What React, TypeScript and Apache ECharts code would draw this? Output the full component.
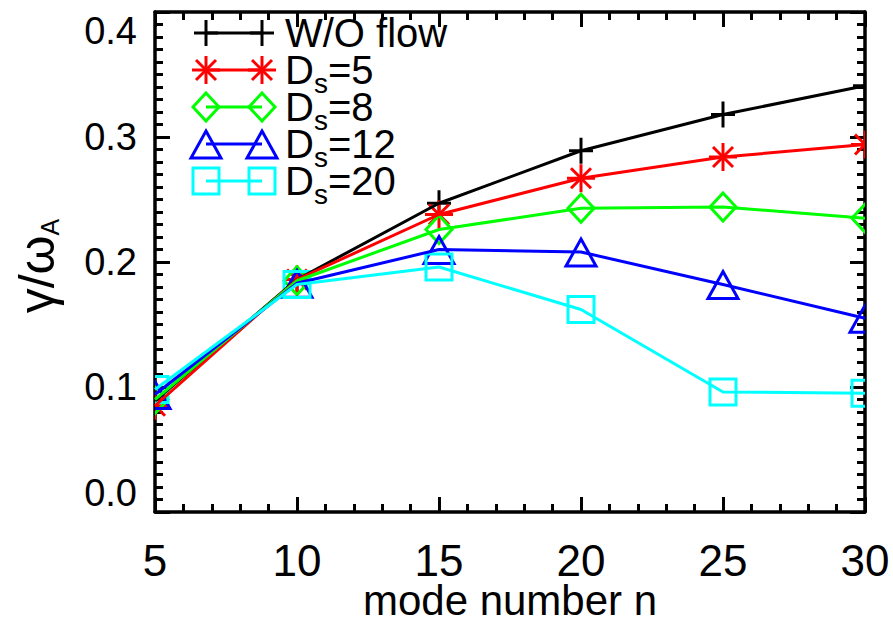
import React, { useEffect, useRef } from "react";
import * as echarts from "echarts";

const modeNumbers = [5, 10, 15, 20, 25, 30];
const woFlow = [0.089, 0.186, 0.247, 0.289, 0.318, 0.341];
const ds5 = [0.085, 0.186, 0.238, 0.267, 0.284, 0.294];
const ds8 = [0.09, 0.185, 0.226, 0.243, 0.244, 0.235];
const ds12 = [0.094, 0.183, 0.21, 0.208, 0.182, 0.155];
const ds20 = [0.098, 0.182, 0.196, 0.162, 0.096, 0.095];

const seriesNames = ["W/O flow", "Ds=5", "Ds=8", "Ds=12", "Ds=20"];
const legendLabels = ["{a|W/O flow}", "{a|D}{s|s}{a|=5}", "{a|D}{s|s}{a|=8}", "{a|D}{s|s}{a|=12}", "{a|D}{s|s}{a|=20}"];
const seriesValues = [woFlow, ds5, ds8, ds12, ds20];
const seriesColors = ["#000000", "#ff0000", "#00ff00", "#0000ff", "#00ffff"];
const seriesMarkers = ["plus", "asterisk", "diamond", "triangle", "square"];

const FONT = "Liberation Sans";
const LW = 3;

function markerShapes(kind: string, cx: number, cy: number, color: string): any[] {
  const st = { stroke: color, lineWidth: LW, fill: "none" };
  const ln = (x1: number, y1: number, x2: number, y2: number) => ({
    type: "line",
    shape: { x1, y1, x2, y2 },
    style: { stroke: color, lineWidth: LW },
  });
  switch (kind) {
    case "plus":
      return [ln(cx - 12, cy, cx + 12, cy), ln(cx, cy - 13, cx, cy + 13)];
    case "asterisk":
      return [
        ln(cx - 14, cy, cx + 14, cy),
        ln(cx, cy - 14, cx, cy + 14),
        ln(cx - 10, cy - 10, cx + 10, cy + 10),
        ln(cx - 10, cy + 10, cx + 10, cy - 10),
      ];
    case "diamond":
      return [
        {
          type: "polygon",
          shape: { points: [[cx, cy - 14], [cx + 13, cy], [cx, cy + 14], [cx - 13, cy]] },
          style: st,
        },
      ];
    case "triangle":
      return [
        {
          type: "polygon",
          shape: { points: [[cx, cy - 13], [cx + 15, cy + 14], [cx - 15, cy + 14]] },
          style: st,
        },
      ];
    default:
      return [
        {
          type: "rect",
          shape: { x: cx - 13, y: cy - 13, width: 26, height: 26 },
          style: st,
        },
      ];
  }
}

export default function App() {
  const ref = useRef<HTMLDivElement>(null);
  useEffect(() => {
    document.body.style.margin = "0";
    if (!ref.current) return;
    const chart = echarts.init(ref.current, null, { renderer: "svg" });

    const axisCommon = {
      type: "value",
      axisLine: { show: true, onZero: false, lineStyle: { color: "#000", width: 3.5 } },
      axisTick: { show: true, inside: true, length: 15, lineStyle: { color: "#000", width: 3 } },
      minorTick: { show: true, length: 8, lineStyle: { color: "#000", width: 3 } },
      splitLine: { show: false },
      minorSplitLine: { show: false },
    };

    const series: any[] = [];
    seriesValues.forEach((vals, i) => {
      const data = modeNumbers.map((n, j) => [n, vals[j]]);
      series.push({
        name: seriesNames[i],
        type: "line",
        data,
        symbol: "none",
        clip: true,
        lineStyle: { color: seriesColors[i], width: LW },
        itemStyle: { color: seriesColors[i] },
        z: 2,
      });
      series.push({
        name: seriesNames[i],
        type: "custom",
        data,
        clip: true,
        z: 2,
        renderItem: (params: any, api: any) => {
          const p = api.coord([api.value(0), api.value(1)]);
          return {
            type: "group",
            children: markerShapes(seriesMarkers[i], p[0], p[1], seriesColors[i]),
          };
        },
      });
    });

    const legendElements: any[] = [];
    seriesNames.forEach((_, i) => {
      const y = 33 + 37 * i;
      const c = seriesColors[i];
      legendElements.push({
        type: "line",
        shape: { x1: 206, y1: y, x2: 262, y2: y },
        style: { stroke: c, lineWidth: LW },
      });
      legendElements.push(...markerShapes(seriesMarkers[i], 206, y, c));
      legendElements.push(...markerShapes(seriesMarkers[i], 262, y, c));
      legendElements.push({
        type: "text",
        x: 285,
        y,
        style: {
          text: legendLabels[i],
          fontSize: 40,
          lineHeight: 34,
          fontFamily: FONT,
          fill: "#000",
          verticalAlign: "middle",
          align: "left",
          rich: {
            a: { fontSize: 40, lineHeight: 34, fontFamily: FONT, fill: "#000" },
            s: {
              fontSize: 28,
              fontFamily: FONT,
              fill: "#000",
              verticalAlign: "top",
              lineHeight: 4,
              padding: [16, 0, 0, 0],
            },
          },
        },
      });
    });

    chart.setOption({
      animation: false,
      backgroundColor: "#ffffff",
      grid: { left: 155, right: 28, top: 12, bottom: 111, containLabel: false, outerBoundsMode: "none" },
      xAxis: [
        {
          ...axisCommon,
          min: 5,
          max: 30,
          interval: 5,
          position: "bottom",
          minorTick: { ...axisCommon.minorTick, splitNumber: 5 },
          axisLabel: { show: true, fontSize: 44, lineHeight: 40, fontFamily: FONT, color: "#000", margin: 28 },
          name: "mode number n",
          nameLocation: "middle",
          nameGap: 70,
          nameMoveOverlap: false,
          nameTextStyle: { fontSize: 42, lineHeight: 36, fontFamily: FONT, color: "#000" },
        },
        {
          ...axisCommon,
          min: 5,
          max: 30,
          interval: 5,
          position: "top",
          minorTick: { ...axisCommon.minorTick, splitNumber: 5 },
          axisLabel: { show: false },
        },
      ],
      yAxis: [
        {
          ...axisCommon,
          min: 0,
          max: 0.4,
          interval: 0.1,
          position: "left",
          minorTick: { ...axisCommon.minorTick, splitNumber: 10 },
          axisLabel: {
            show: true,
            fontSize: 38,
            fontFamily: FONT,
            color: "#000",
            margin: 18,
            formatter: (v: number) => v.toFixed(1),
            verticalAlignMinLabel: "bottom",
            verticalAlignMaxLabel: "top",
          },
          name: "{g|γ/ω}{s|A}",
          nameLocation: "middle",
          nameGap: 93,
          nameRotate: 90,
          nameMoveOverlap: false,
          nameTextStyle: {
            fontSize: 50,
            fontFamily: FONT,
            color: "#000",
            padding: [0, 8, 0, 0],
            rich: {
              g: { fontSize: 50, lineHeight: 50, fontFamily: FONT, color: "#000" },
              s: { fontSize: 25, fontFamily: FONT, color: "#000", verticalAlign: "bottom", lineHeight: 26 },
            },
          },
        },
        {
          ...axisCommon,
          min: 0,
          max: 0.4,
          interval: 0.1,
          position: "right",
          minorTick: { ...axisCommon.minorTick, splitNumber: 10 },
          axisLabel: { show: false },
        },
      ],
      graphic: { elements: legendElements },
      series,
    });

    return () => chart.dispose();
  }, []);

  return <div ref={ref} style={{ width: 893, height: 623 }} />;
}
